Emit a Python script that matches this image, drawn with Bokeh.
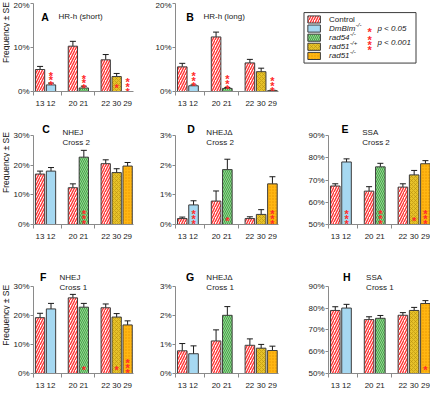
import math
from bokeh.plotting import figure
from bokeh.layouts import row, column
from bokeh.models import (Range1d, FixedTicker, PrintfTickFormatter,
                          ColumnDataSource, Whisker, TeeHead)
from bokeh.core.properties import value
from bokeh.embed import file_html
from bokeh.resources import INLINE

# ---------------- data ----------------
categories = ["13", "12", "20", "21", "22", "30", "29"]
genotypes = ["Control", "DmBlm", "Control", "rad54", "Control", "rad51het", "rad51hom"]
slots = [0, 1, 3, 4, 6, 7, 8]
group_breaks = [2, 5]

A_values = [5.0, 1.5, 10.3, 0.8, 7.2, 3.4, 0.0]
A_errors = [0.7, 0.4, 1.1, 0.4, 1.2, 0.7, 0.0]
A_stars = [0, 3, 0, 3, 0, 1, 3]

B_values = [5.6, 1.3, 12.4, 0.7, 6.5, 4.5, 0.2]
B_errors = [0.8, 0.2, 1.1, 0.2, 0.8, 0.8, 0.1]
B_stars = [0, 3, 0, 3, 0, 0, 3]

C_values = [17.0, 18.0, 12.4, 22.7, 20.5, 17.5, 19.7]
C_errors = [1.0, 1.2, 1.3, 2.3, 1.3, 1.3, 1.2]
C_stars = [0, 0, 0, 3, 0, 0, 0]

D_values = [0.20, 0.66, 0.79, 1.85, 0.20, 0.34, 1.37]
D_errors = [0.05, 0.14, 0.34, 0.35, 0.06, 0.16, 0.24]
D_stars = [0, 3, 0, 1, 0, 0, 3]

E_values = [67.3, 78.1, 65.0, 75.9, 66.8, 72.3, 77.3]
E_errors = [1.0, 1.4, 2.0, 1.6, 1.5, 2.0, 1.4]
E_stars = [0, 3, 0, 3, 0, 1, 3]

F_values = [19.2, 22.2, 26.0, 22.8, 22.6, 19.4, 16.7]
F_errors = [1.5, 1.9, 1.2, 1.3, 1.3, 1.2, 1.4]
F_stars = [0, 0, 0, 1, 0, 1, 3]

G_values = [0.78, 0.68, 1.12, 2.00, 0.97, 0.87, 0.79]
G_errors = [0.25, 0.27, 0.38, 0.30, 0.22, 0.13, 0.15]
G_stars = [0, 0, 0, 0, 0, 0, 0]

H_values = [78.9, 80.0, 74.7, 75.3, 76.7, 78.9, 82.1]
H_errors = [1.7, 1.7, 1.3, 1.3, 1.2, 1.4, 1.3]
H_stars = [0, 0, 0, 0, 0, 0, 1]

y_ticks_hr = [0, 10, 20]
y_ticks_nhej = [0, 10, 20, 30]
y_ticks_delta = [0, 1, 2, 3]
y_ticks_ssa = [50, 60, 70, 80, 90]

legend_keys = ["Control", "DmBlm", "rad54", "rad51het", "rad51hom"]
legend_names = ["Control", "DmBlm", "rad54", "rad51", "rad51"]
legend_sups = ["", "-/-", "-/-", "-/+", "-/-"]
y_label = "Frequency \u00b1 SE"

# ---------------- styling / layout ----------------
SX = 430 / 446
SY = 390 / 410
FONT = "Liberation Sans"
AXIS_C = "#8a8a8a"
TXT_C = "#1a1a1a"
STAR_C = "#ff2a2a"
EDGE_C = "#3c3c3c"

STYLE = {
    "Control": dict(fill_color="white", hatch_pattern="/", hatch_color="#ff3333",
                    hatch_scale=5, hatch_weight=1.4),
    "DmBlm": dict(fill_color="#a6d8f1"),
    "rad54": dict(fill_color="#93d693", hatch_pattern="\\", hatch_color="#3f9e3f",
                  hatch_scale=4, hatch_weight=0.9),
    "rad51het": dict(fill_color="#e6c22a", hatch_pattern="x", hatch_color="#b8900c",
                     hatch_scale=4, hatch_weight=0.6),
    "rad51hom": dict(fill_color="#ffb612", hatch_pattern=".", hatch_color="#e89600",
                     hatch_scale=3, hatch_weight=0.5),
}

col_edges = [0, 10, 150, 300, 446]
row_edges = [0, 128, 268, 410]
zero_y = [96, 236, 393]
top_y = [3, 142, 301]
title_y = [(17, 17, None), (135, 138, 149), (291, 291, 302)]
ylab_center = [45, 55, 72]

PPU_X = 11.69 * SX
X0 = -0.6
FRAME_W = 107
STAR_SHIFT = 3


def sx(v):
    return int(round(v * SX))


def sy(v):
    return int(round(v * SY))


def make_panel(vals, errs, stars, ymin, ymax, yticks, col, rw, axis_x,
               letter, lines, ldx, tdx, above):
    fx0, fx1 = sx(col_edges[col]), sx(col_edges[col + 1])
    fy0, fy1 = sy(row_edges[rw]), sy(row_edges[rw + 1])
    W, H = fx1 - fx0, fy1 - fy0
    ax = sx(axis_x)
    left = ax - fx0
    fr = min(sx(axis_x + FRAME_W), fx1)
    right = fx1 - fr
    zero = sy(zero_y[rw]) - fy0
    bottom = H - zero
    t = sy(top_y[rw]) - fy0
    ppu_y = (zero - t) / (ymax - ymin)
    y_end = ymin + zero / ppu_y
    x_end = X0 + (fr - ax) / PPU_X

    p = figure(width=W, height=H, title=None,
               x_range=Range1d(X0, x_end), y_range=Range1d(ymin, y_end),
               output_backend="svg", toolbar_location=None,
               min_border_left=left, min_border_right=right,
               min_border_top=0, min_border_bottom=bottom)
    p.outline_line_color = None
    p.xgrid.visible = False
    p.ygrid.visible = False
    p.background_fill_color = "white"
    p.border_fill_color = "white"

    # bars
    for g in ["Control", "DmBlm", "rad54", "rad51het", "rad51hom"]:
        idx = [i for i, gg in enumerate(genotypes) if gg == g and vals[i] > ymin]
        if not idx:
            continue
        src = ColumnDataSource(dict(x=[slots[i] for i in idx],
                                    top=[vals[i] for i in idx]))
        p.vbar(x="x", top="top", bottom=ymin, width=0.85, source=src,
               line_color=EDGE_C, line_width=1, **STYLE[g])

    # error bars
    idx = [i for i in range(len(vals)) if errs[i] > 0]
    wsrc = ColumnDataSource(dict(x=[slots[i] for i in idx],
                                 lo=[vals[i] - errs[i] for i in idx],
                                 hi=[vals[i] + errs[i] for i in idx]))
    w = Whisker(base="x", lower="lo", upper="hi", source=wsrc,
                line_color="#1a1a1a", line_width=1,
                upper_head=TeeHead(size=6, line_color="#1a1a1a", line_width=1),
                lower_head=TeeHead(size=6, line_color="#1a1a1a", line_width=1))
    p.add_layout(w)

    # significance stars
    xs, ys, offs = [], [], []
    for i, n in enumerate(stars):
        if n == 0:
            continue
        if above and n == 3:
            anchor, oo = vals[i], [-3, -8, -13]
        elif n == 3:
            anchor, oo = ymin, [-4, -9, -14]
        else:
            anchor, oo = ymin, [-7]
        for o in oo:
            xs.append(slots[i])
            ys.append(anchor)
            offs.append(o * SY + STAR_SHIFT)
    if xs:
        p.text(x=xs, y=ys, text=["*"] * len(xs), y_offset=offs,
               text_color=STAR_C, text_font_size="11px", text_font=value(FONT),
               text_font_style="bold",
               text_align="center", text_baseline="middle")

    # panel titles
    ty = title_y[rw]
    p.text(x=[X0], y=[y_end], text=[letter], x_offset=ldx * SX,
           y_offset=(ty[0] - row_edges[rw]) * SY,
           text_font=value(FONT), text_font_size="10.5px", text_font_style="bold",
           text_color="black", text_align="center", text_baseline="middle")
    for k, line in enumerate(lines):
        p.text(x=[X0], y=[y_end], text=[line], x_offset=tdx * SX,
               y_offset=(ty[1 + k] - row_edges[rw]) * SY,
               text_font=value(FONT), text_font_size="8px",
               text_color=TXT_C, text_align="left", text_baseline="middle")

    # x axis
    xa = p.xaxis[0]
    xa.ticker = FixedTicker(ticks=slots, minor_ticks=[X0] + group_breaks + [8.6])
    xa.major_label_overrides = {s: c for s, c in zip(slots, categories)}
    xa.bounds = (X0, 8.6)
    xa.major_tick_out = 0
    xa.major_tick_in = 0
    xa.minor_tick_out = 4
    xa.minor_tick_in = 0
    xa.axis_line_color = AXIS_C
    xa.minor_tick_line_color = AXIS_C
    xa.major_label_text_font = FONT
    xa.major_label_text_font_size = "8px"
    xa.major_label_text_color = TXT_C
    xa.major_label_standoff = 5

    # y axis
    ya = p.yaxis[0]
    ya.ticker = FixedTicker(ticks=yticks)
    ya.formatter = PrintfTickFormatter(format="%d%%")
    ya.bounds = (ymin, ymax)
    ya.major_tick_out = 3
    ya.major_tick_in = 0
    ya.minor_tick_out = 0
    ya.minor_tick_in = 0
    ya.axis_line_color = AXIS_C
    ya.major_tick_line_color = AXIS_C
    ya.major_label_text_font = FONT
    ya.major_label_text_font_size = "8px"
    ya.major_label_text_color = TXT_C
    ya.major_label_standoff = 1
    return p


def make_ylab(rw):
    H = sy(row_edges[rw + 1]) - sy(row_edges[rw])
    W = sx(col_edges[1]) - sx(col_edges[0])
    p = figure(width=W, height=H, title=None,
               x_range=Range1d(0, col_edges[1]),
               y_range=Range1d(row_edges[rw + 1] - row_edges[rw], 0),
               x_axis_location=None, y_axis_location=None,
               output_backend="svg", toolbar_location=None,
               min_border=0)
    p.outline_line_color = None
    p.xgrid.visible = False
    p.ygrid.visible = False
    p.text(x=[5.5], y=[ylab_center[rw]], text=[y_label], angle=math.pi / 2,
           text_font=value(FONT), text_font_size="8.5px", text_color=TXT_C,
           text_align="center", text_baseline="middle")
    return p


CHAR_W = {"D": .722, "m": .833, "B": .667, "l": .222, "r": .333, "a": .556,
          "d": .556, "5": .556, "4": .556, "1": .556}


def make_legend():
    fx0, fx1 = sx(col_edges[3]), sx(col_edges[4])
    H = sy(row_edges[1])
    Wd = col_edges[4] - col_edges[3]
    p = figure(width=fx1 - fx0, height=H, title=None,
               x_range=Range1d(0, Wd), y_range=Range1d(row_edges[1], 0),
               x_axis_location=None, y_axis_location=None,
               output_backend="svg", toolbar_location=None, min_border=0)
    p.outline_line_color = None
    p.xgrid.visible = False
    p.ygrid.visible = False
    p.quad(left=[15], right=[131], top=[17], bottom=[88],
           fill_color=None, line_color=EDGE_C, line_width=1)
    ys = [26.7, 39.5, 52.3, 65.1, 78.0]
    for k, key in enumerate(legend_keys):
        y = ys[k]
        p.quad(left=[19], right=[32], top=[y - 5], bottom=[y + 5],
               line_color=EDGE_C, line_width=1, **STYLE[key])
        name = legend_names[k]
        p.text(x=[41], y=[y], text=[name], text_font=value(FONT),
               text_font_size="8px", text_color=TXT_C,
               text_font_style="normal" if k == 0 else "italic",
               text_align="left", text_baseline="middle")
        if legend_sups[k]:
            wname = sum(CHAR_W.get(c, .556) for c in name) * 8 / SX
            p.text(x=[41 + wname + 0.5], y=[y], text=[legend_sups[k]],
                   y_offset=-3.5, text_font=value(FONT), text_font_size="6px",
                   text_color=TXT_C, text_font_style="italic",
                   text_align="left", text_baseline="middle")
    # significance key
    p.text(x=[83, 83, 83, 83], y=[39.5, 58.5, 58.5, 58.5], text=["*"] * 4,
           y_offset=[STAR_SHIFT, -5 + STAR_SHIFT, STAR_SHIFT, 5 + STAR_SHIFT],
           text_color=STAR_C, text_font_size="11px", text_font=value(FONT),
           text_font_style="bold", text_align="center", text_baseline="middle")
    p.text(x=[91, 91], y=[39.5, 59.5], text=["p < 0.05", "p < 0.001"],
           text_font=value(FONT), text_font_size="8px", text_color=TXT_C,
           text_font_style="italic", text_align="left", text_baseline="middle")
    return p


pA = make_panel(A_values, A_errors, A_stars, 0, 20, y_ticks_hr, 1, 0, 31,
                "A", ["HR-h (short)"], 12, 26, True)
pB = make_panel(B_values, B_errors, B_stars, 0, 20, y_ticks_hr, 2, 0, 181,
                "B", ["HR-h (long)"], 15, 29, True)
pC = make_panel(C_values, C_errors, C_stars, 0, 30, y_ticks_nhej, 1, 1, 31,
                "C", ["NHEJ", "Cross 2"], 13, 30, False)
pD = make_panel(D_values, D_errors, D_stars, 0, 3, y_ticks_delta, 2, 1, 181,
                "D", ["NHEJ\u0394", "Cross 2"], 16, 32, False)
pE = make_panel(E_values, E_errors, E_stars, 50, 90, y_ticks_ssa, 3, 1, 340,
                "E", ["SSA", "Cross 2"], 17, 35, False)
pF = make_panel(F_values, F_errors, F_stars, 0, 30, y_ticks_nhej, 1, 2, 31,
                "F", ["NHEJ", "Cross 1"], 10, 27, False)
pG = make_panel(G_values, G_errors, G_stars, 0, 3, y_ticks_delta, 2, 2, 181,
                "G", ["NHEJ\u0394", "Cross 1"], 15, 32, False)
pH = make_panel(H_values, H_errors, H_stars, 50, 90, y_ticks_ssa, 3, 2, 340,
                "H", ["SSA", "Cross 1"], 19, 39, False)

layout = column(
    row(make_ylab(0), pA, pB, make_legend(), spacing=0),
    row(make_ylab(1), pC, pD, pE, spacing=0),
    row(make_ylab(2), pF, pG, pH, spacing=0),
    spacing=0,
)

open("out.html", "w").write(file_html(layout, INLINE))
